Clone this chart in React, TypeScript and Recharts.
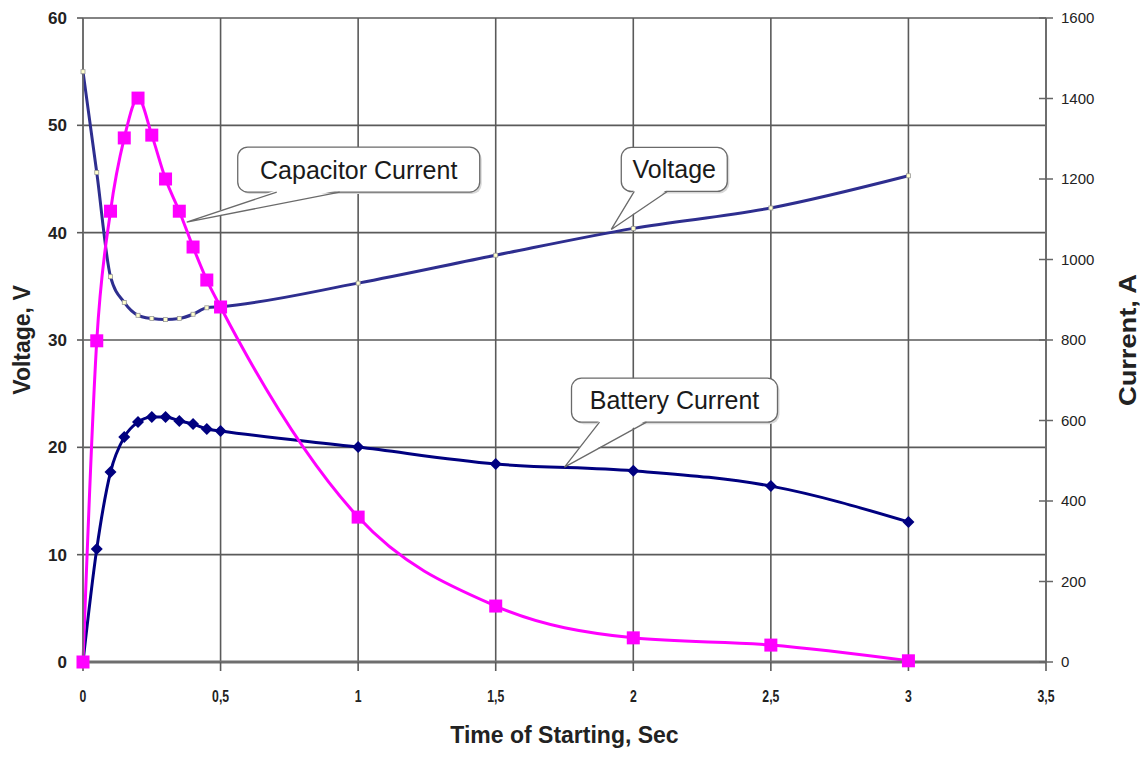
import { ComposedChart, Line, XAxis, YAxis, CartesianGrid, ReferenceDot, Label } from 'recharts';

// time points (s)
const times = [0, 0.05, 0.1, 0.15, 0.2, 0.25, 0.3, 0.35, 0.4, 0.45, 0.5, 1, 1.5, 2, 2.5, 3];
// left axis, V
const voltage = [55, 45.6, 35.9, 33.5, 32.3, 32.0, 31.9, 32.0, 32.4, 33.0, 33.1, 35.3, 37.9, 40.4, 42.3, 45.3];
// right axis, A
const capacitorCurrent = [0, 798, 1120, 1302, 1401, 1309, 1200, 1120, 1031, 949, 882, 360, 139, 60, 42, 3];
const batteryCurrent = [0, 281, 472, 559, 596, 609, 609, 599, 591, 579, 574, 534, 492, 475, 437, 348];

const timeTicks = [0, 0.5, 1, 1.5, 2, 2.5, 3, 3.5];
const voltageTicks = [0, 10, 20, 30, 40, 50, 60];
const currentTicks = [0, 200, 400, 600, 800, 1000, 1200, 1400, 1600];

const data = times.map((t, i) => ({
  t,
  voltage: voltage[i],
  cap: capacitorCurrent[i],
  bat: batteryCurrent[i],
}));

const FONT = 'Arial, "Liberation Sans", sans-serif';
const GRID = '#5a5a5a';

const SquareDot = (props: any) => {
  const { cx, cy, index } = props;
  if (cx == null || cy == null) return <g key={index} />;
  return <rect key={index} x={cx - 6.5} y={cy - 6.5} width={13} height={13} fill="#ff00ff" />;
};

const DiamondDot = (props: any) => {
  const { cx, cy, index } = props;
  if (cx == null || cy == null) return <g key={index} />;
  const s = 6;
  return (
    <polygon
      key={index}
      points={`${cx},${cy - s} ${cx + s},${cy} ${cx},${cy + s} ${cx - s},${cy}`}
      fill="#000080"
    />
  );
};

const SmallDot = (props: any) => {
  const { cx, cy, index } = props;
  if (cx == null || cy == null) return <g key={index} />;
  return <rect key={index} x={cx - 2} y={cy - 2} width={4} height={4} fill="#ffffcc" stroke="#999" strokeWidth={0.8} />;
};

const XTick = (props: any) => {
  const { x, y, payload } = props;
  const label = String(payload.value).replace('.', ',');
  return (
    <g transform={`translate(${x},${y})`}>
      <text transform="scale(0.72,1)" textAnchor="middle" dy="0.71em" fontSize={17} fontWeight="bold" fill="#222" fontFamily={FONT}>
        {label}
      </text>
    </g>
  );
};

const RightTick = (props: any) => {
  const { x, y, payload } = props;
  return (
    <g>
      <line x1={x - 7} x2={x + 7} y1={y} y2={y} stroke="#666" strokeWidth={1.5} />
      <text x={x + 15} y={y} dy="0.36em" fontSize={15} fill="#222" fontFamily={FONT}>
        {payload.value}
      </text>
    </g>
  );
};

const makeCallout = (text: string, box: { dx: number; dy: number; w: number; h: number }, base: [number, number]) =>
  (props: any) => {
    const { cx, cy } = props;
    if (cx == null || cy == null) return <g />;
    const bx = cx + box.dx;
    const by = cy + box.dy;
    const bottom = by + box.h;
    const b1 = cx + base[0];
    const b2 = cx + base[1];
    return (
      <g>
        <rect x={bx + 2} y={by + 2} width={box.w} height={box.h} rx={10} fill="#d8d8d8" />
        <rect x={bx} y={by} width={box.w} height={box.h} rx={10} fill="#fff" stroke="#6a6a6a" strokeWidth={1.3} />
        <polygon points={`${b1},${bottom - 2} ${cx},${cy} ${b2},${bottom - 2}`} fill="#fff" />
        <polyline points={`${b1},${bottom} ${cx},${cy} ${b2},${bottom}`} fill="none" stroke="#6a6a6a" strokeWidth={1.3} />
        <text x={bx + box.w / 2} y={by + box.h / 2} dy="0.36em" textAnchor="middle" fontSize={25} fill="#1a1a1a" fontFamily={FONT}>
          {text}
        </text>
      </g>
    );
  };

const capacitorCallout = makeCallout('Capacitor Current', { dx: 51, dy: -75, w: 242, h: 45 }, [90, 153]);
const voltageCallout = makeCallout('Voltage', { dx: 10, dy: -82, w: 106, h: 44 }, [23, 56]);
const batteryCallout = makeCallout('Battery Current', { dx: 7, dy: -89, w: 206, h: 44 }, [35, 82]);

export default function App() {
  return (
    <ComposedChart width={1140} height={749} data={data} margin={{ top: 10, right: 0, bottom: 0, left: 0 }}>
      <CartesianGrid
        yAxisId="left"
        stroke={GRID}
        strokeWidth={1.6}
        horizontalValues={voltageTicks}
        verticalValues={timeTicks}
      />
      <XAxis
        dataKey="t"
        type="number"
        domain={[0, 3.5]}
        ticks={timeTicks}
        height={95}
        tickSize={9}
        tickMargin={19}
        tick={<XTick />}
        tickLine={{ stroke: GRID, strokeWidth: 1.6 }}
        axisLine={{ stroke: '#6e6e6e', strokeWidth: 3 }}
      >
        <Label
          content={(p: any) => {
            const vb = p.viewBox;
            return (
              <text x={vb.x + vb.width / 2} y={vb.y + 81} textAnchor="middle" fontSize={23} fontWeight="bold" fill="#222" fontFamily={FONT}>
                Time of Starting, Sec
              </text>
            );
          }}
        />
      </XAxis>
      <YAxis
        yAxisId="left"
        domain={[0, 60]}
        ticks={voltageTicks}
        width={75}
        tickSize={6}
        tickMargin={10}
        tick={{ fontSize: 17, fontWeight: 'bold', fill: '#222', fontFamily: FONT }}
        tickLine={{ stroke: GRID, strokeWidth: 1.6 }}
        axisLine={{ stroke: '#6e6e6e', strokeWidth: 1.6 }}
      >
        <Label
          content={(p: any) => {
            const vb = p.viewBox;
            const x = vb.x + 14;
            const y = vb.y + vb.height / 2;
            return (
              <text x={x} y={y} transform={`rotate(-90 ${x} ${y})`} dominantBaseline="central" textAnchor="middle" fontSize={23} fontWeight="bold" fill="#222" fontFamily={FONT}>
                Voltage, V
              </text>
            );
          }}
        />
      </YAxis>
      <YAxis
        yAxisId="right"
        orientation="right"
        domain={[0, 1600]}
        ticks={currentTicks}
        width={102}
        tickSize={0}
        tickMargin={0}
        tickLine={false}
        tick={<RightTick />}
        axisLine={{ stroke: '#6e6e6e', strokeWidth: 2 }}
      >
        <Label
          content={(p: any) => {
            const vb = p.viewBox;
            const x = vb.x + 82;
            const y = vb.y + vb.height / 2;
            return (
              <text x={x} y={y} transform={`rotate(-90 ${x} ${y})`} dominantBaseline="central" textAnchor="middle" fontSize={23} fontWeight="bold" fill="#222" fontFamily={FONT} textLength={132} lengthAdjust="spacingAndGlyphs">
                Current, A
              </text>
            );
          }}
        />
      </YAxis>
      <Line yAxisId="left" dataKey="voltage" type="monotone" stroke="#2e2e8f" strokeWidth={3} dot={SmallDot} isAnimationActive={false} />
      <Line yAxisId="right" dataKey="bat" type="monotone" stroke="#000080" strokeWidth={3} dot={DiamondDot} isAnimationActive={false} />
      <Line yAxisId="right" dataKey="cap" type="monotone" stroke="#ff00ff" strokeWidth={3} dot={SquareDot} isAnimationActive={false} />
      <ReferenceDot yAxisId="right" x={0.377} y={1093} r={0} shape={capacitorCallout} />
      <ReferenceDot yAxisId="left" x={1.92} y={40.3} r={0} shape={voltageCallout} />
      <ReferenceDot yAxisId="right" x={1.75} y={484} r={0} shape={batteryCallout} />
    </ComposedChart>
  );
}
